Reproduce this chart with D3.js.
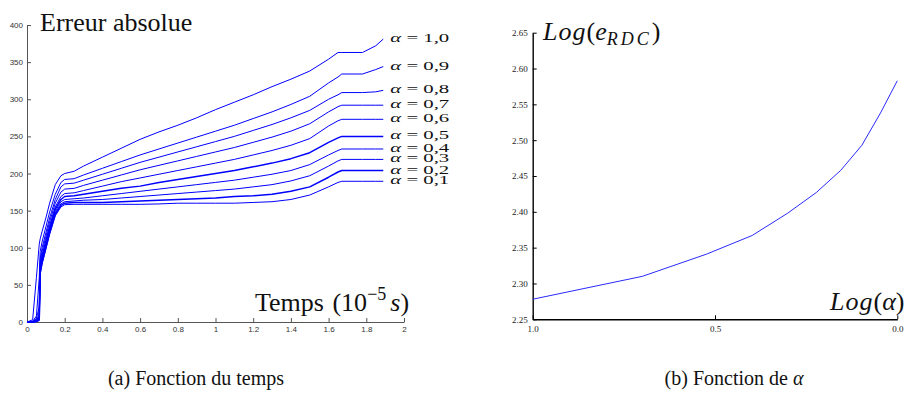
<!DOCTYPE html>
<html>
<head>
<meta charset="utf-8">
<script src="https://cdn.jsdelivr.net/npm/d3@7"></script>
<style>
	body { margin: 0; background: #fff; }
	svg { display: block; }
</style>
</head>
<body>
<svg class="chart" width="912" height="400"></svg>
<script>
/** DATA **/
// (a) absolute error vs time, one series per alpha
let times = [0, 0.03, 0.05, 0.065, 0.07, 0.08, 0.1, 0.12, 0.15, 0.18, 0.2, 0.25,
	0.3, 0.4, 0.5, 0.6, 0.7, 0.8, 0.9, 1.0, 1.1, 1.2, 1.3, 1.4, 1.5, 1.6,
	1.65, 1.67, 1.78, 1.85, 1.89];

let alphaLabels = ['1,0', '0,9', '0,8', '0,7', '0,6', '0,5', '0,4', '0,3', '0,2', '0,1'];

let err10 = [0, 3, 60, 105, 112, 122, 140, 160, 185, 197, 200, 203,
	210, 222, 234, 246, 256, 265, 275, 286, 296, 306, 317, 327, 338, 354, 363, 363, 363, 372, 381];
let err09 = [0, 1, 8, 60, 95, 108, 128, 148, 172, 188, 192, 193,
	198, 207, 216, 225, 233, 241, 249, 257, 265, 274, 283, 293, 304, 322, 330, 334, 334, 340, 344];
let err08 = [0, 1, 5, 20, 85, 100, 120, 140, 165, 182, 186, 187,
	191, 199, 207, 215, 222, 229, 236, 243, 250, 258, 266, 275, 285, 300, 306, 309, 309, 310, 312];
let err07 = [0, 0, 4, 10, 80, 95, 115, 135, 160, 175, 179, 180,
	184, 191, 198, 205, 211, 217, 223, 229, 235, 242, 249, 257, 267, 283, 290, 292, 292, 292, 292];
let err06 = [0, 0, 3, 8, 75, 90, 110, 130, 155, 169, 173, 174,
	177, 183, 189, 194, 199, 204, 209, 214, 219, 225, 231, 238, 247, 264, 271, 273, 273, 273, 273];
let err05 = [0, 0, 2, 6, 72, 87, 107, 127, 152, 165, 169, 170,
	172, 176, 180, 183, 188, 192, 196, 200, 204, 209, 214, 220, 228, 242, 248, 250, 250, 250, 250];
let err04 = [0, 0, 2, 5, 70, 84, 104, 124, 149, 162, 165, 166,
	167, 170, 173, 176, 179, 182, 185, 188, 191, 195, 199, 204, 212, 225, 231, 233, 233, 233, 233];
let err03 = [0, 0, 1, 4, 68, 82, 102, 122, 147, 159, 162, 163,
	164, 165, 167, 169, 171, 173, 175, 177, 179, 182, 185, 190, 197, 210, 217, 219, 219, 219, 219];
let err02 = [0, 0, 1, 3, 66, 80, 100, 120, 145, 157, 160, 161,
	161, 161, 162, 163, 164, 165, 166, 167, 169, 170, 172, 176, 182, 195, 202, 204, 204, 204, 204];
let err01 = [0, 0, 0, 2, 65, 78, 98, 118, 143, 155, 158, 158.5,
	158.5, 158.5, 158.5, 158.5, 159, 160, 160, 160, 160, 161, 162, 165, 171, 182, 188, 189.5, 189.5, 189.5, 189.5];

let timeTicks = [0, 0.2, 0.4, 0.6, 0.8, 1, 1.2, 1.4, 1.6, 1.8, 2];
let errTicks = [0, 50, 100, 150, 200, 250, 300, 350, 400];

// (b) log of final error vs log of alpha
let logAlpha = [1.0, 0.699, 0.523, 0.398, 0.301, 0.222, 0.155, 0.097, 0.046, 0.0];
let logErr = [2.278, 2.310, 2.341, 2.367, 2.398, 2.427, 2.458, 2.493, 2.538, 2.583];

let logAlphaTicks = [1.0, 0.5, 0.0];
let logErrTicks = [2.25, 2.30, 2.35, 2.40, 2.45, 2.50, 2.55, 2.60, 2.65];

/** CONSTANTS **/
let serif = '"Liberation Serif", "Times New Roman", serif';
let sans = '"Liberation Sans", Arial, sans-serif';

let left = {
	x: d3.scaleLinear().domain([0, 2]).range([27, 404]),
	y: d3.scaleLinear().domain([0, 400]).range([322, 25])
};

let right = {
	x: d3.scaleLinear().domain([1, 0]).range([532.7, 897.3]),
	y: d3.scaleLinear().domain([2.25, 2.65]).range([319.3, 32.7])
};

function createCharts() {
	let svg = d3.select('.chart');
	svg.append('rect').attr('width', 912).attr('height', 400).attr('fill', '#fff');

	createTimeChart(svg);
	createAlphaChart(svg);
	createCaptions(svg);
}

/** (a) TIME CHART **/
function createTimeChart(svg) {
	let series = [err10, err09, err08, err07, err06, err05, err04, err03, err02, err01];

	// axes, MATLAB style inward ticks
	let yAxis = svg.append('g')
		.attr('transform', 'translate(' + left.x(0) + ',0)')
		.call(d3.axisLeft(left.y).tickValues(errTicks).tickSizeInner(-4).tickSizeOuter(0).tickPadding(4));
	let xAxis = svg.append('g')
		.attr('transform', 'translate(0,' + left.y(0) + ')')
		.call(d3.axisBottom(left.x).tickValues(timeTicks).tickFormat(d3.format('~g'))
			.tickSizeInner(-4).tickSizeOuter(0).tickPadding(4));

	[yAxis, xAxis].forEach(function(a) {
		a.select('.domain').attr('stroke', '#555');
		a.selectAll('.tick line').attr('stroke', '#555');
		a.selectAll('.tick text')
			.attr('fill', '#333')
			.style('font', '8px ' + sans);
	});

	let line = d3.line()
		.x(function(d, i) { return left.x(times[i]); })
		.y(function(d) { return left.y(d); });

	svg.append('g')
		.selectAll('path')
		.data(series)
		.enter()
		.append('path')
		.attr('d', line)
		.attr('fill', 'none')
		.attr('stroke', '#0000ff')
		.attr('stroke-width', function(d, i) { return (i === 5 || i === 8) ? 1.5 : 1; })
		.attr('stroke-linejoin', 'round');

	// alpha labels at the end of each curve
	let labels = svg.append('g')
		.selectAll('text')
		.data(series)
		.enter()
		.append('text')
		.attr('x', left.x(times[times.length - 1]) + 7)
		.attr('y', function(d) { return left.y(d[d.length - 1]) + 3; })
		.attr('textLength', 59)
		.attr('lengthAdjust', 'spacingAndGlyphs')
		.style('font', '12px ' + serif)
		.attr('fill', '#111');
	labels.append('tspan').style('font-style', 'italic').text('α');
	labels.append('tspan').text(function(d, i) { return ' = ' + alphaLabels[i]; });

	// title
	svg.append('text')
		.attr('x', 40)
		.attr('y', 31)
		.style('font', '26px ' + serif)
		.attr('fill', '#111')
		.text('Erreur absolue');

	// x label
	let xl = svg.append('text')
		.attr('x', 255)
		.attr('y', 311)
		.style('font', '26px ' + serif)
		.attr('fill', '#111');
	xl.append('tspan').text('Temps ');
	xl.append('tspan').attr('dx', 2).text('(10');
	xl.append('tspan').attr('dy', -11).style('font-size', '18px').text('−5');
	xl.append('tspan').attr('dy', 11).attr('dx', 4).style('font-style', 'italic').text('s');
	xl.append('tspan').text(')');
}

/** (b) ALPHA CHART **/
function createAlphaChart(svg) {
	let yAxis = svg.append('g')
		.attr('transform', 'translate(' + right.x(1) + ',0)')
		.call(d3.axisLeft(right.y).tickValues(logErrTicks).tickFormat(d3.format('.2f'))
			.tickSizeInner(-4).tickSizeOuter(0).tickPadding(5));
	let xAxis = svg.append('g')
		.attr('transform', 'translate(0,' + right.y(2.25) + ')')
		.call(d3.axisBottom(right.x).tickValues(logAlphaTicks).tickFormat(d3.format('.1f'))
			.tickSizeInner(-4).tickSizeOuter(0).tickPadding(6));

	[yAxis, xAxis].forEach(function(a) {
		a.select('.domain').attr('stroke', '#000').attr('stroke-width', 1.4);
		a.selectAll('.tick line').attr('stroke', '#000');
		a.selectAll('.tick text')
			.attr('fill', '#222')
			.style('font', '9px ' + serif);
	});

	let line = d3.line()
		.x(function(d, i) { return right.x(logAlpha[i]); })
		.y(function(d) { return right.y(d); });

	svg.append('path')
		.datum(logErr)
		.attr('d', line)
		.attr('fill', 'none')
		.attr('stroke', '#2a2aff')
		.attr('stroke-width', 1);

	// y label
	let yl = svg.append('text')
		.attr('x', 543)
		.attr('y', 40)
		.style('font', '26px ' + serif)
		.attr('fill', '#111');
	yl.append('tspan').style('font-style', 'italic').attr('letter-spacing', 1).text('Log');
	yl.append('tspan').text('(');
	yl.append('tspan').style('font-style', 'italic').text('e');
	yl.append('tspan').attr('dy', 5).style('font-style', 'italic').style('font-size', '18px')
		.attr('letter-spacing', 3).text('RDC');
	yl.append('tspan').attr('dy', -5).text(')');

	// x label
	let xl = svg.append('text')
		.attr('x', 830)
		.attr('y', 310)
		.style('font', '26px ' + serif)
		.attr('fill', '#111');
	xl.append('tspan').style('font-style', 'italic').attr('letter-spacing', 1).text('Log');
	xl.append('tspan').text('(');
	xl.append('tspan').style('font-style', 'italic').text('α');
	xl.append('tspan').text(')');
}

/** CAPTIONS **/
function createCaptions(svg) {
	svg.append('text')
		.attr('x', 196)
		.attr('y', 385)
		.attr('text-anchor', 'middle')
		.style('font', '20px ' + serif)
		.attr('fill', '#111')
		.text('(a) Fonction du temps');

	let b = svg.append('text')
		.attr('x', 734)
		.attr('y', 385)
		.attr('text-anchor', 'middle')
		.style('font', '20px ' + serif)
		.attr('fill', '#111');
	b.append('tspan').text('(b) Fonction de ');
	b.append('tspan').style('font-style', 'italic').text('α');
}

createCharts();
</script>
</body>
</html>
